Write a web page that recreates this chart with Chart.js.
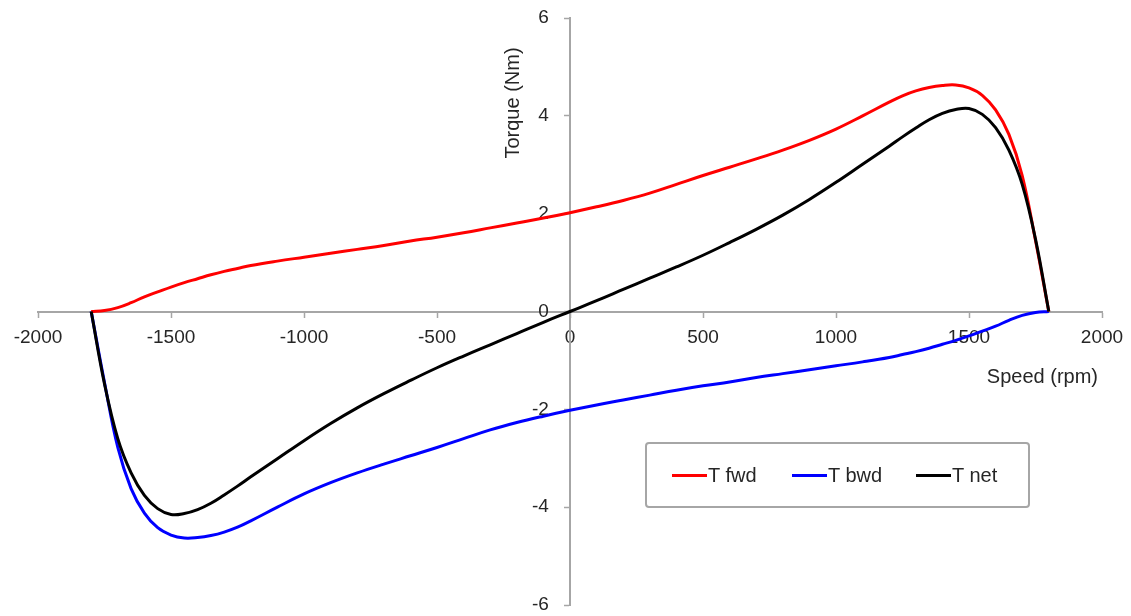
<!DOCTYPE html>
<html>
<head>
<meta charset="utf-8">
<title>Torque - speed</title>
<script src="https://cdn.jsdelivr.net/npm/chart.js@4.4.1/dist/chart.umd.min.js"></script>
<style>
    html, body { margin: 0; padding: 0; background: #fff; }
    #wrap { position: relative; width: 1131px; height: 616px; }
    #legend {
        position: absolute; left: 645px; top: 442px;
        width: 381px; height: 62px;
        border: 2px solid #a6a6a6; border-radius: 4px;
        font-family: "Liberation Sans", Arial, sans-serif; font-size: 20px; color: #262626;
    }
    .item { position: absolute; top: 0; height: 62px; display: flex; align-items: center; }
    .swatch { width: 35px; height: 3px; margin-right: 1px; }
</style>
</head>
<body>
<div id="wrap">
    <canvas id="chart" width="1131" height="616"></canvas>
    <div id="legend"></div>
</div>
<script>
const speed = [-1800, -1750, -1700, -1650, -1600, -1550, -1500, -1450, -1400, -1350, -1300, -1250, -1200,
    -1100, -1000, -900, -800, -700, -600, -500, -400, -300, -200, -100, 0, 100, 200, 300, 400, 500, 600, 700, 800, 900, 1000, 1100,
    1200, 1250, 1300, 1350, 1400, 1450, 1500, 1550, 1600, 1650, 1700, 1750, 1800];

const tFwd = [0, 0.02, 0.08, 0.18, 0.3, 0.4, 0.5, 0.59, 0.67, 0.75, 0.82, 0.88, 0.94,
    1.03, 1.11, 1.19, 1.27, 1.35, 1.44, 1.52, 1.61, 1.71, 1.81, 1.91, 2.02, 2.14, 2.27, 2.42, 2.6, 2.78, 2.95, 3.12, 3.3, 3.5, 3.73, 4.0,
    4.28, 4.41, 4.51, 4.58, 4.62, 4.63, 4.57, 4.42, 4.12, 3.62, 2.78, 1.45, 0];

const tBwd = [0, -1.45, -2.78, -3.62, -4.12, -4.42, -4.57, -4.63, -4.62, -4.58, -4.51, -4.41, -4.28,
    -4.0, -3.73, -3.5, -3.3, -3.12, -2.95, -2.78, -2.6, -2.42, -2.27, -2.14, -2.02, -1.91, -1.81, -1.71, -1.61, -1.52, -1.44, -1.35, -1.27, -1.19, -1.11, -1.03,
    -0.94, -0.88, -0.82, -0.75, -0.67, -0.59, -0.5, -0.4, -0.3, -0.18, -0.08, -0.02, 0];

const tNet = [0, -1.48, -2.6, -3.3, -3.76, -4.03, -4.15, -4.13, -4.05, -3.92, -3.75, -3.57, -3.38,
    -3.01, -2.64, -2.29, -1.97, -1.68, -1.41, -1.15, -0.91, -0.68, -0.45, -0.22, 0, 0.22, 0.45, 0.68, 0.91, 1.15, 1.41, 1.68, 1.97, 2.29, 2.64, 3.01,
    3.38, 3.57, 3.75, 3.92, 4.05, 4.13, 4.15, 4.03, 3.76, 3.3, 2.6, 1.48, 0];

const xTicks = [-2000, -1500, -1000, -500, 0, 500, 1000, 1500, 2000];
const yTicks = [-6, -4, -2, 0, 2, 4, 6];

const xTitle = "Speed (rpm)";
const yTitle = "Torque (Nm)";

const FONT = '"Liberation Sans", Arial, sans-serif';
const AXIS_GREY = "#a6a6a6";
const TEXT = "#262626";

function toPoints(values) {
    return speed.map((s, i) => ({ x: s, y: values[i] }));
}

// centred axes: take no room in the layout, the padding below places the plot
function noRoom(scale) {
    if (scale.isHorizontal()) scale.height = 0; else scale.width = 0;
    scale.paddingLeft = scale.paddingRight = scale.paddingTop = scale.paddingBottom = 0;
}

// axis titles sit beside the centred axes, so draw them by hand
const axisTitles = {
    id: "axisTitles",
    afterDraw(chart) {
        const ctx = chart.ctx;
        const x = chart.scales.x;
        const y = chart.scales.y;
        ctx.save();
        ctx.fillStyle = TEXT;
        ctx.font = "20px " + FONT;
        ctx.textAlign = "right";
        ctx.textBaseline = "middle";
        ctx.fillText(xTitle, chart.chartArea.right - 4, y.getPixelForValue(0) + 66);

        ctx.translate(x.getPixelForValue(0) - 57, chart.chartArea.top + 85);
        ctx.rotate(-Math.PI / 2);
        ctx.textAlign = "center";
        ctx.fillText(yTitle, 0, 0);
        ctx.restore();
    }
};

const datasets = [
    { label: "T fwd", data: toPoints(tFwd), borderColor: "#ff0000", order: 1 },
    { label: "T bwd", data: toPoints(tBwd), borderColor: "#0000ff", order: 1 },
    { label: "T net", data: toPoints(tNet), borderColor: "#000000", order: 0 }
];

new Chart(document.getElementById("chart"), {
    type: "scatter",
    data: {
        datasets: datasets.map(d => Object.assign({
            showLine: true,
            borderWidth: 3,
            pointRadius: 0,
            tension: 0.4
        }, d))
    },
    options: {
        responsive: false,
        animation: false,
        devicePixelRatio: 1,
        layout: { padding: { left: 38, right: 29, top: 18, bottom: 11 } },
        plugins: {
            legend: { display: false },
            tooltip: { enabled: false }
        },
        scales: {
            x: {
                type: "linear",
                position: { y: 0 },
                min: -2000,
                max: 2000,
                afterBuildTicks: (s) => { s.ticks = xTicks.map(v => ({ value: v })); },
                afterFit: noRoom,
                grid: { drawOnChartArea: false, tickLength: 5, tickColor: AXIS_GREY, tickWidth: 1.5 },
                border: { color: AXIS_GREY, width: 2 },
                ticks: {
                    padding: 12, maxRotation: 0, autoSkip: false, color: TEXT,
                    font: { family: FONT, size: 19, lineHeight: 1 },
                    callback: (v) => String(v)
                }
            },
            y: {
                type: "linear",
                position: { x: 0 },
                min: -6,
                max: 6,
                afterBuildTicks: (s) => { s.ticks = yTicks.map(v => ({ value: v })); },
                afterFit: noRoom,
                grid: { drawOnChartArea: false, tickLength: 5, tickColor: AXIS_GREY, tickWidth: 1.5 },
                border: { color: AXIS_GREY, width: 2 },
                ticks: {
                    autoSkip: false, color: TEXT, font: { family: FONT, size: 19, lineHeight: 1 },
                    callback: (v) => v + "    "
                }
            }
        }
    },
    plugins: [axisTitles]
});

// legend box inside the plot, like the spreadsheet one
const legend = document.getElementById("legend");
const itemLeft = [25, 145, 269];
datasets.forEach((d, i) => {
    const item = document.createElement("div");
    item.className = "item";
    item.style.left = itemLeft[i] + "px";
    item.innerHTML = '<span class="swatch" style="background:' + d.borderColor + '"></span>' + d.label;
    legend.appendChild(item);
});
</script>
</body>
</html>
